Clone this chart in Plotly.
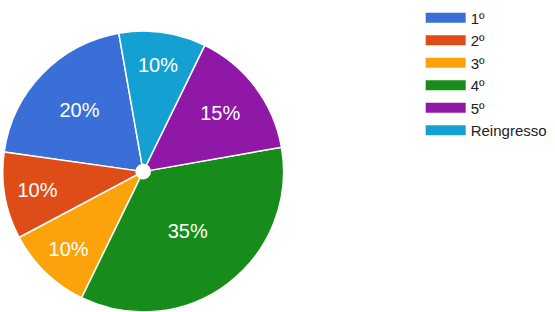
import plotly.graph_objects as go

labels = ["1º", "2º", "3º", "4º", "5º", "Reingresso"]
values = [20, 10, 10, 35, 15, 10]
colors = ["#3a6fd8", "#de4d17", "#fca30c", "#178c1b", "#8f18a6", "#14a0d0"]

fig = go.Figure()
fig.add_trace(go.Pie(
    labels=labels,
    values=values,
    sort=False,
    direction="counterclockwise",
    rotation=-82,
    hole=0.05,
    marker=dict(colors=colors, line=dict(color="white", width=1.5)),
    textinfo="percent",
    texttemplate="%{percent:.0%}",
    textposition="inside",
    insidetextorientation="horizontal",
    textfont=dict(color="white", size=20, family="Arial, Liberation Sans, sans-serif"),
    domain=dict(x=[0, 0.516], y=[0, 0.9]),
    showlegend=False,
))

# legend entries (wide colour swatches)
for lab, col in zip(labels, colors):
    fig.add_trace(go.Scatter(
        x=[None], y=[None], mode="lines", name=lab,
        line=dict(color=col, width=12),
        showlegend=True, hoverinfo="skip",
    ))

fig.update_layout(
    width=555, height=312,
    margin=dict(l=0, r=0, t=0, b=0),
    paper_bgcolor="white",
    plot_bgcolor="white",
    xaxis=dict(visible=False, domain=[0.99, 1]),
    yaxis=dict(visible=False),
    legend=dict(
        x=0.758, y=0.995, xanchor="left", yanchor="top",
        font=dict(size=15, color="#222222", family="Arial, Liberation Sans, sans-serif"),
        traceorder="normal",
        tracegroupgap=0,
        itemwidth=40,
        bgcolor="rgba(0,0,0,0)",
    ),
)

fig.write_html("out.html")
